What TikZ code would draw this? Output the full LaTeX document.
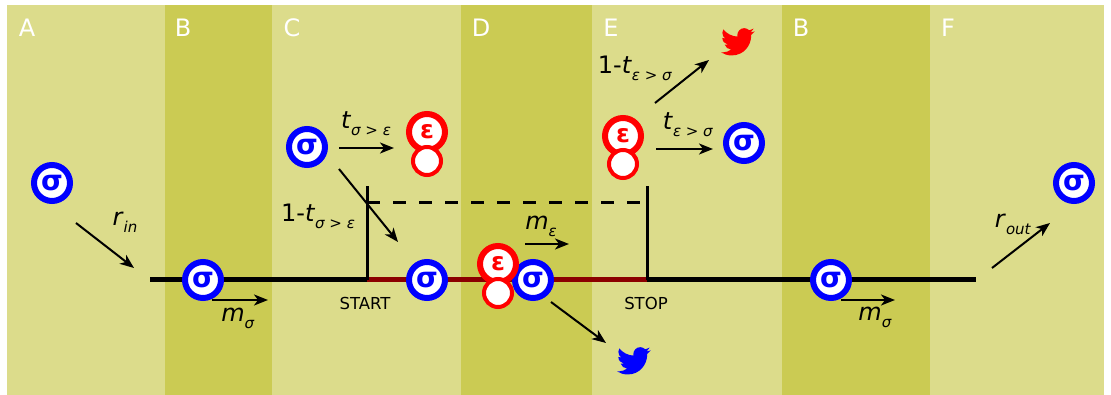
\documentclass[tikz,border=0pt]{standalone}
\usepackage{fontspec}
\setmainfont{DejaVu Sans}
\usetikzlibrary{arrows.meta}
\definecolor{lightband}{HTML}{DCDC8B}
\definecolor{darkband}{HTML}{CBCB53}
\definecolor{darkred}{HTML}{8B0000}
\definecolor{sigblue}{HTML}{0000FF}
\definecolor{epsred}{HTML}{FF0000}
\newcommand{\lbl}[2]{\textit{#1}\raisebox{-0.3em}{\fontsize{15pt}{15pt}\selectfont\textit{#2}}}
\tikzset{
  x=1pt,y=-1pt,
  lightb/.style={fill=lightband,draw=none},
  darkb/.style={fill=darkband,draw=none},
  zone/.style={text=white,font=\fontsize{24pt}{24pt}\selectfont,inner sep=0pt},
  sigmanode/.style={circle,draw=sigblue,line width=6pt,fill=white,minimum size=36pt,inner sep=0pt,text=sigblue,font=\bfseries\fontsize{28pt}{28pt}\selectfont},
  epsnode/.style={circle,draw=epsred,line width=6pt,fill=white,minimum size=36pt,inner sep=0pt,text=epsred,font=\bfseries\fontsize{25pt}{25pt}\selectfont},
  smallnode/.style={circle,draw=epsred,line width=4pt,fill=white,minimum size=28pt,inner sep=0pt},
  rate/.style={inner sep=0pt,text=black,font=\fontsize{24pt}{24pt}\selectfont},
  mark label/.style={inner sep=0pt,text=black,font=\fontsize{16.5pt}{16.5pt}\selectfont},
  arrowline/.style={line width=2pt,draw=black,-{Stealth[length=14pt,width=11pt,inset=4pt]}},
  wire/.style={line width=5pt,draw=black},
  wallline/.style={line width=3pt,draw=black},
  dashline/.style={line width=3pt,draw=black,dash pattern=on 13pt off 13pt},
  bird/.pic={\fill[pic actions,scale=1.4] (23.95,4.57) -- (21.13,5.35) -- (23.29,2.62) .. controls (22.34,3.18) and (21.28,3.58) .. (20.16,3.81) .. controls (19.25,2.88) and (18,2.25) .. (16.6,2.25) .. controls (13.9,2.25) and (11.7,4.45) .. (11.7,7.17) .. controls (11.7,7.55) and (11.74,7.93) .. (11.78,8.29) .. controls (7.69,8.1) and (4.07,6.13) .. (1.64,3.16) .. controls (1.22,3.88) and (0.97,4.73) .. (0.97,5.64) .. controls (0.97,7.35) and (1.84,8.85) .. (3.16,9.73) .. controls (2.35,9.71) and (1.6,9.49) .. (0.93,9.11) -- (0.93,9.17) .. controls (0.93,11.56) and (2.63,13.55) .. (4.88,14) .. controls (4.15,14.2) and (3.38,14.22) .. (2.66,14.08) .. controls (3.3,16.04) and (5.12,17.46) .. (7.27,17.5) .. controls (5.58,18.82) and (3.46,19.6) .. (1.17,19.6) .. controls (0.78,19.6) and (0.39,19.58) .. (0,19.54) .. controls (2.19,20.94) and (4.78,21.75) .. (7.56,21.75) .. controls (16.61,21.75) and (21.55,14.25) .. (21.55,7.76) .. controls (21.55,7.55) and (21.55,7.34) .. (21.53,7.13) .. controls (22.5,6.44) and (23.33,5.57) .. (24,4.59) -- cycle;}
}
\begin{document}
\begin{tikzpicture}
\useasboundingbox (0,0) rectangle (1111,395);
\fill[white] (0,0) rectangle (1111,395);
% bands
\fill[lightb] (7,5) rectangle (165,395);
\fill[darkb] (165,5) rectangle (272,395);
\fill[lightb] (272,5) rectangle (461,395);
\fill[darkb] (461,5) rectangle (592,395);
\fill[lightb] (592,5) rectangle (782,395);
\fill[darkb] (782,5) rectangle (930,395);
\fill[lightb] (930,5) rectangle (1104,395);
\node[zone] (zA) at (27,28) {A};
\node[zone] (zB) at (183,28) {B};
\node[zone] (zC) at (292,28) {C};
\node[zone] (zD) at (481,28) {D};
\node[zone] (zE) at (611,28) {E};
\node[zone] (zB2) at (801,28) {B};
\node[zone] (zF) at (948,28) {F};
% coordinates
\coordinate (wireL) at (150,280);
\coordinate (wireR) at (976,280);
\coordinate (startB) at (367,280);
\coordinate (stopB) at (647,280);
\coordinate (startT) at (367,186);
\coordinate (stopT) at (647,186);
\coordinate (dashL) at (367,203);
\coordinate (dashR) at (647,203);
% track
\draw[wire] (wireL) -- (wireR);
\draw[wire,draw=darkred] (startB) -- (stopB);
\draw[wallline] (startB) -- (startT);
\draw[wallline] (stopB) -- (stopT);
\draw[dashline] (dashL) -- (dashR);
\node[mark label] (start) at (365,303) {START};
\node[mark label] (stop) at (646,303) {STOP};
% particles
\node[sigmanode] (s1) at (52,183) {σ};
\node[sigmanode] (s2) at (203,280) {σ};
\node[sigmanode] (s3) at (307,147) {σ};
\node[sigmanode] (s4) at (427,280) {σ};
\node[sigmanode] (s5) at (533,280) {σ};
\node[sigmanode] (s6) at (744,143) {σ};
\node[sigmanode] (s7) at (831,280) {σ};
\node[sigmanode] (s8) at (1074,183) {σ};
\node[epsnode] (e1) at (427,132) {ε};
\node[smallnode] (d1) at (427,161) {};
\node[epsnode] (e2) at (498,264) {ε};
\node[smallnode] (d2) at (498,293) {};
\node[epsnode] (e3) at (623,136) {ε};
\node[smallnode] (d3) at (623,164) {};
% birds
\pic[fill=epsred] (birdR) at (721,25) {bird};
\pic[fill=sigblue] (birdB) at (617,344) {bird};
% arrow ends
\coordinate (a1s) at (76,223); \coordinate (a1e) at (134,268);
\coordinate (a2s) at (212,300); \coordinate (a2e) at (268,300);
\coordinate (a3s) at (339,148); \coordinate (a3e) at (394,148);
\coordinate (a4s) at (339,169); \coordinate (a4e) at (398,242);
\coordinate (a5s) at (525,244); \coordinate (a5e) at (569,244);
\coordinate (a6s) at (551,302); \coordinate (a6e) at (606,343);
\coordinate (a7s) at (655,103); \coordinate (a7e) at (709,60);
\coordinate (a8s) at (656,149); \coordinate (a8e) at (713,149);
\coordinate (a9s) at (841,300); \coordinate (a9e) at (895,300);
\coordinate (a10s) at (992,268); \coordinate (a10e) at (1050,223);
\draw[arrowline] (a1s) -- (a1e);
\draw[arrowline] (a2s) -- (a2e);
\draw[arrowline] (a3s) -- (a3e);
\draw[arrowline] (a4s) -- (a4e);
\draw[arrowline] (a5s) -- (a5e);
\draw[arrowline] (a6s) -- (a6e);
\draw[arrowline] (a7s) -- (a7e);
\draw[arrowline] (a8s) -- (a8e);
\draw[arrowline] (a9s) -- (a9e);
\draw[arrowline] (a10s) -- (a10e);
% labels
\node[rate] (rin) at (125,222) {\lbl{r}{in}};
\node[rate] (ms1) at (238,318) {\lbl{m}{σ}};
\node[rate] (ts) at (366,124) {\lbl{t}{σ > ε}};
\node[rate] (ots) at (318,216) {1-\lbl{t}{σ > ε}};
\node[rate] (me) at (541,226) {\lbl{m}{ε}};
\node[rate] (ote) at (635,68) {1-\lbl{t}{ε > σ}};
\node[rate] (te) at (688,125) {\lbl{t}{ε > σ}};
\node[rate] (ms2) at (875,317) {\lbl{m}{σ}};
\node[rate] (rout) at (1013,224) {\lbl{r}{out}};
\end{tikzpicture}
\end{document}
